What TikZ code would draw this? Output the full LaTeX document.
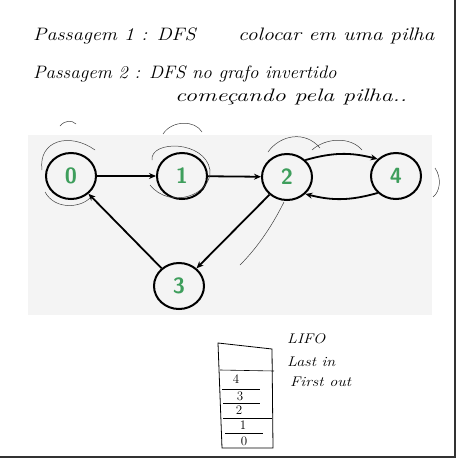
\documentclass[tikz,border=0pt]{standalone}
\usepackage{tikz}
\usetikzlibrary{arrows.meta,positioning,shapes.geometric}
\definecolor{vgreen}{HTML}{3E9E5C}
\definecolor{pbg}{HTML}{F4F4F4}
\tikzset{
	vertex/.style={draw,ellipse,line width=2pt,minimum width=50pt,minimum height=46pt,inner sep=0pt,
		font=\sffamily\bfseries\fontsize{22}{22}\selectfont,text=vgreen},
	edge/.style={line width=1.8pt,-{Stealth[length=7pt,width=6pt]}},
	pen/.style={line width=0.5pt,draw=black!75},
	hand/.style={font=\itshape\fontsize{18}{20}\selectfont,anchor=base west,inner sep=0pt},
	small/.style={font=\itshape\fontsize{14}{15}\selectfont,anchor=base west,inner sep=0pt},
	cell/.style={font=\fontsize{13}{13}\selectfont,inner sep=0pt}
}
\newcommand{\wide}[2]{\scalebox{#1}[1]{#2}}
\begin{document}
\begin{tikzpicture}[x=1pt,y=-1pt]
	\useasboundingbox (0,0) rectangle (458,458);
	\fill[white] (0,0) rectangle (458,458);
	\draw[line width=2pt,black!80] (455,0) -- (455,457) -- (0,457);
	% notes
	\node[hand] (p1) at (33,40) {\wide{1.12}{Passagem 1 : DFS}};
	\node[hand] (p1b) at (238,40) {\wide{1.2}{colocar em uma pilha}};
	\node[hand] (p2) at (33,78) {\wide{1.05}{Passagem 2 : DFS no grafo invertido}};
	\node[hand] (p3) at (175,101) {\wide{1.35}{começando pela pilha..}};
	% graph
	\fill[pbg] (28,135) rectangle (432,315);
	\node[vertex] (v0) at (71,176) {0};
	\node[vertex] (v1) at (182,176) {1};
	\node[vertex] (v2) at (287,177) {2};
	\node[vertex] (v4) at (396,176) {4};
	\node[vertex] (v3) at (179,286) {3};
	\draw[edge] (v0) -- (v1);
	\draw[edge] (v1) -- (v2);
	\draw[edge] (v2.north east) to[bend left=15] (v4.north west);
	\draw[edge] (v4.south west) to[bend left=15] (v2.south east);
	\draw[edge] (v2) -- (v3);
	\draw[edge] (v3) -- (v0);
	% pen marks
	\draw[pen] (42,170) .. controls (38,140) and (70,132) .. (95,150);
	\draw[pen] (45,192) .. controls (55,210) and (80,208) .. (90,198);
	\draw[pen] (152,160) .. controls (150,140) and (205,140) .. (210,170)
		.. controls (212,195) and (170,210) .. (150,185);
	\draw[pen] (268,152) .. controls (280,135) and (305,130) .. (320,148);
	\draw[pen] (312,150) .. controls (325,138) and (350,136) .. (362,150);
	\draw[pen] (284,202) .. controls (270,230) and (255,250) .. (240,265);
	\draw[pen] (435,168) .. controls (442,178) and (440,192) .. (433,197);
	\draw[pen] (60,126) .. controls (65,120) and (72,120) .. (76,124);
	\draw[pen] (163,134) .. controls (172,120) and (195,120) .. (202,132);
	% stack
	\draw[line width=0.8pt] (218,343) -- (272,349) -- (273,448) -- (222,448) -- cycle;
	\draw[line width=0.6pt] (220,370) -- (274,371);
	\draw[line width=0.6pt] (222,389) -- (260,389);
	\draw[line width=0.6pt] (223,403) -- (260,403);
	\draw[line width=0.6pt] (223,418) -- (272,418);
	\draw[line width=0.6pt] (225,433) -- (263,433);
	\node[cell] (s4) at (236,379) {4};
	\node[cell] (s3) at (240,396) {3};
	\node[cell] (s2) at (239,410) {2};
	\node[cell] (s1) at (243,425) {1};
	\node[cell] (s0) at (244,441) {0};
	\node[small] (lifo) at (287,343) {\wide{1.15}{LIFO}};
	\node[small] (lin) at (287,366) {\wide{1.15}{Last in}};
	\node[small] (fout) at (290,386) {\wide{1.15}{First out}};
\end{tikzpicture}
\end{document}
